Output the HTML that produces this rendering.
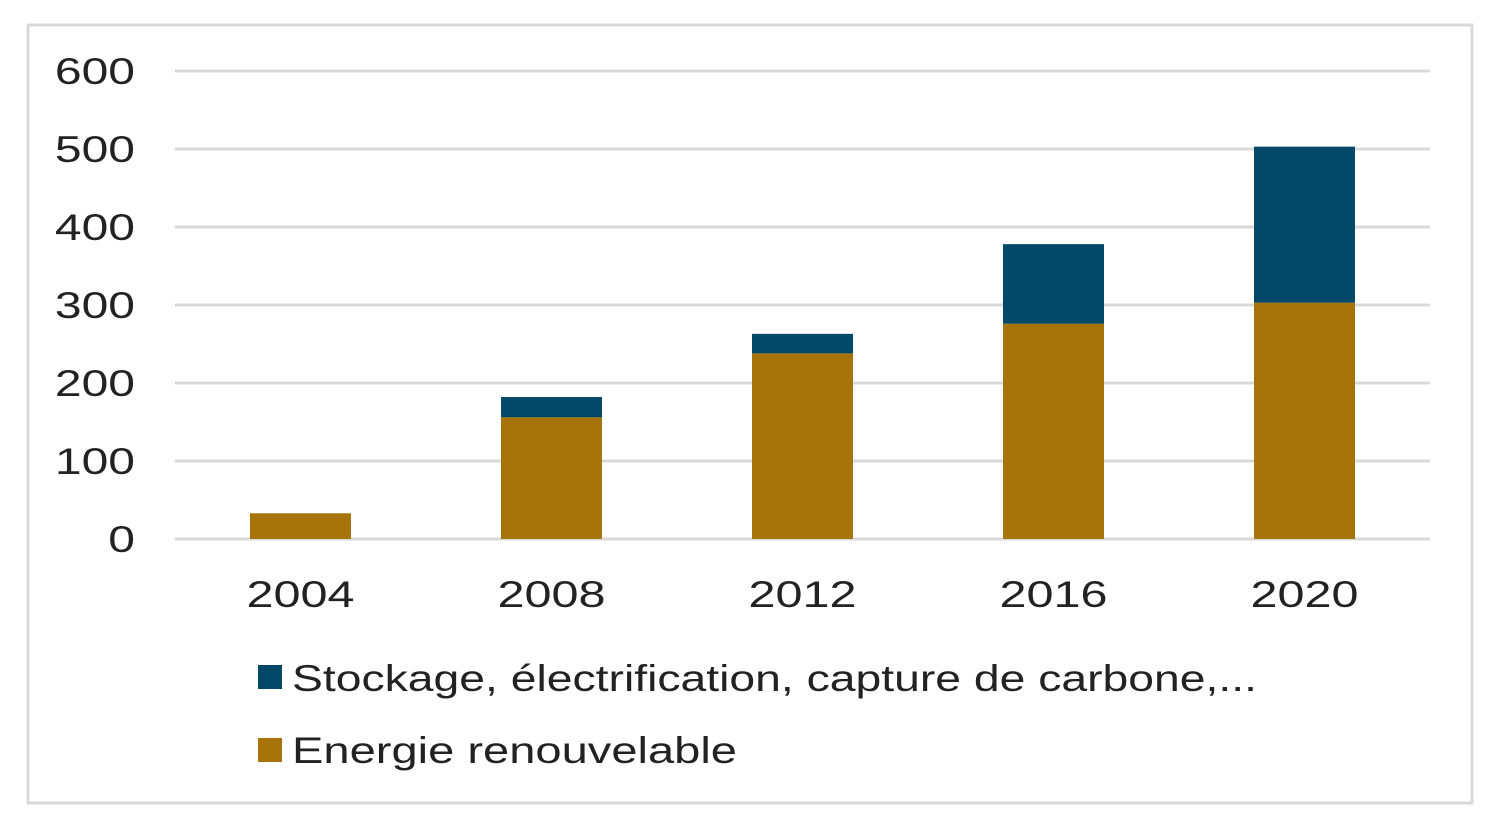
<!DOCTYPE html>
<html><head><meta charset="utf-8"><style>
html,body{margin:0;padding:0;background:#fff;}
svg{display:block;font-family:"Liberation Sans",sans-serif;}
</style></head><body>
<svg id="chart" width="1500" height="825">
<rect x="28" y="25" width="1444" height="778" fill="#fff" stroke="#d9d9d9" stroke-width="3"/>
<g id="grid"></g><g id="bars"></g><g id="xlabels"></g>
<g>
<rect x="258" y="665" width="24" height="24" fill="#034866"/>
<text x="292" y="691" font-size="37" fill="#222" textLength="965" lengthAdjust="spacingAndGlyphs">Stockage, électrification, capture de carbone,...</text>
<rect x="258" y="738" width="24" height="24" fill="#A67408"/>
<text x="292" y="763" font-size="37" fill="#222" textLength="445" lengthAdjust="spacingAndGlyphs">Energie renouvelable</text>
</g>
</svg>
<script>
const categories=["2004","2008","2012","2016","2020"];
const renewable=[33,156,238,276,303];
const storage=[0,26,25,102,200];
const yTicks=[0,100,200,300,400,500,600];
const NS="http://www.w3.org/2000/svg";
const x0=175,x1=1430,yBase=539,yTop=71,yMax=600;
const y=v=>yBase-(v/yMax)*(yBase-yTop);
const band=(x1-x0)/categories.length;
const xc=i=>x0+band*(i+0.5);
const bw=101;
function mk(t,a,p){const e=document.createElementNS(NS,t);for(const k in a)e.setAttribute(k,a[k]);p.appendChild(e);return e;}
const grid=document.getElementById('grid');
yTicks.forEach(t=>{
 const l=mk('line',{x1:x0,x2:x1,y1:y(t),y2:y(t),stroke:'#d9d9d9','stroke-width':3},grid);
 
 
 const s=String(t);
 const tx=mk('text',{x:135,y:y(t)+13,'font-size':37,fill:'#222','text-anchor':'end',textLength:s.length*26.7,lengthAdjust:'spacingAndGlyphs'},grid);
 tx.textContent=s;
 
 
});
const bars=document.getElementById('bars'),xl=document.getElementById('xlabels');
categories.forEach((c,i)=>{
 const r=mk('rect',{x:xc(i)-bw/2,y:y(renewable[i]),width:bw,height:yBase-y(renewable[i]),fill:'#A67408'},bars);
 
 
 if(storage[i]>0){
  const s=mk('rect',{x:xc(i)-bw/2,y:y(renewable[i]+storage[i]),width:bw,height:y(renewable[i])-y(renewable[i]+storage[i]),fill:'#034866'},bars);
  
  
 }
 const t=mk('text',{x:xc(i),y:607,'font-size':37,fill:'#222','text-anchor':'middle',textLength:108,lengthAdjust:'spacingAndGlyphs'},xl);
 t.textContent=c;
 
 
});
</script>
</body></html>
